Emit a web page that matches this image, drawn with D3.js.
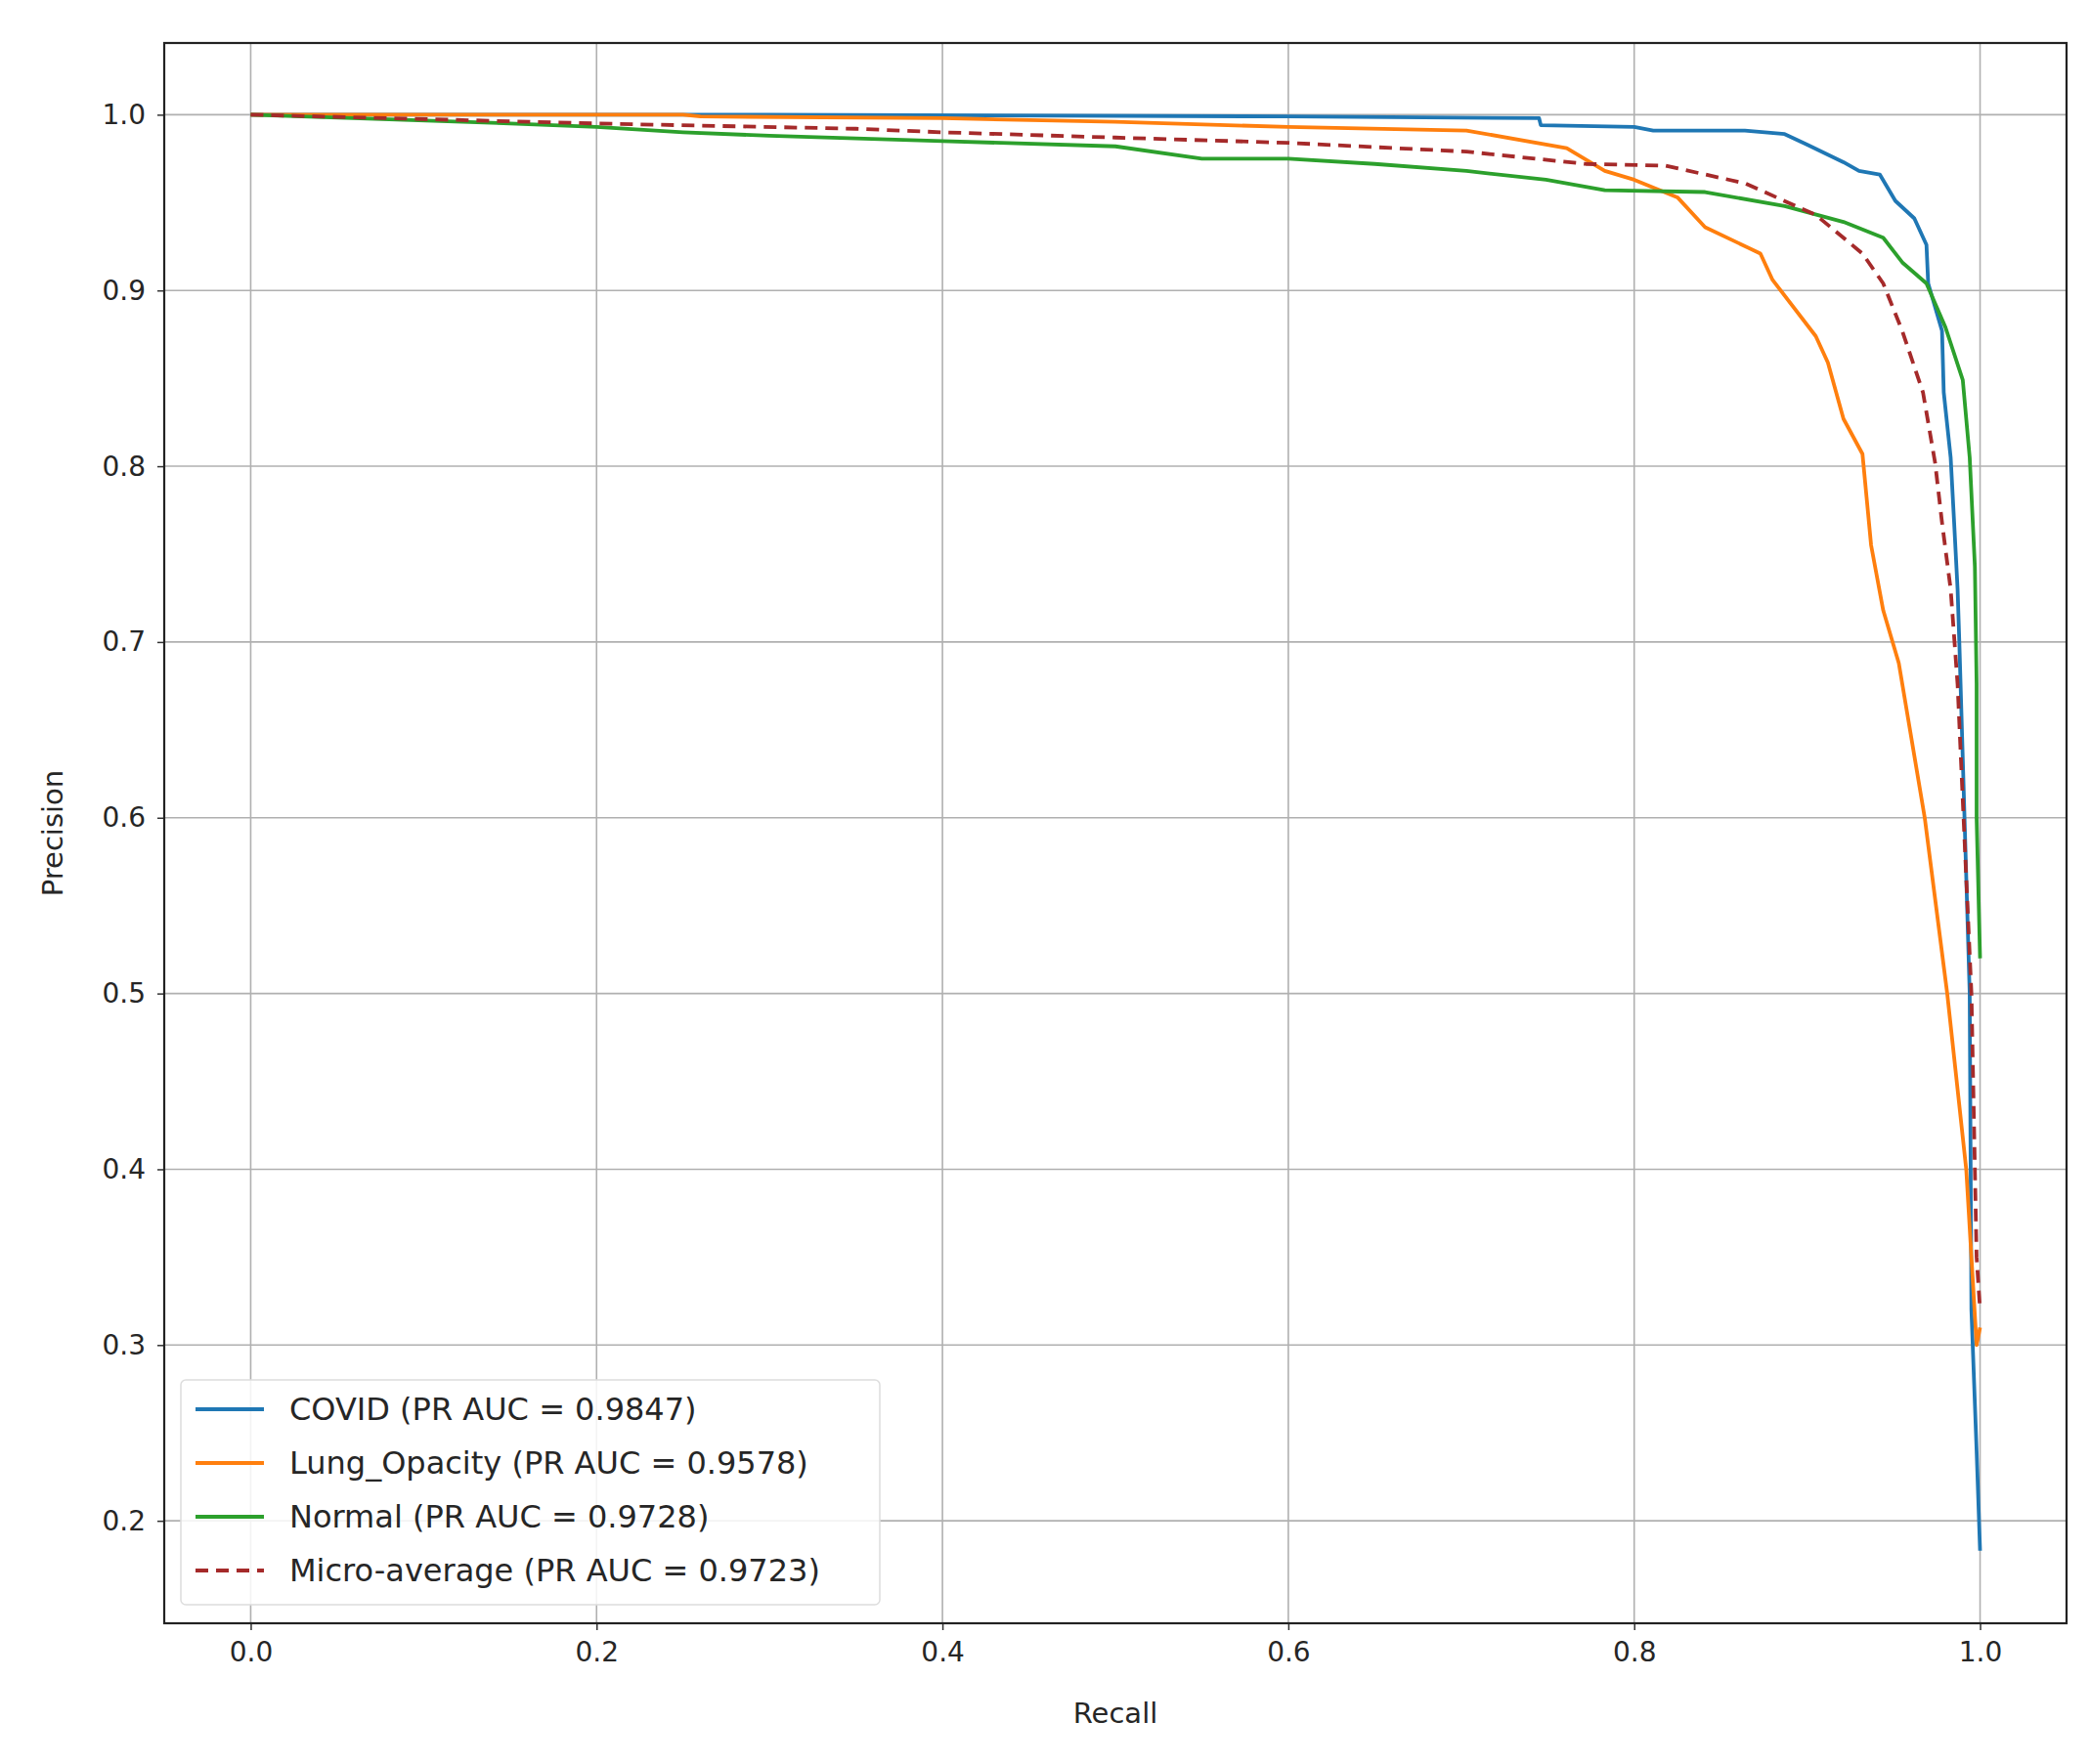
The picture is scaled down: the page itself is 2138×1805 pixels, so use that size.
<!DOCTYPE html>
<html><head><meta charset="utf-8">
<script src="https://cdn.jsdelivr.net/npm/d3@7"></script>
<style>body{margin:0;background:#fff}text{font-family:"DejaVu Sans",sans-serif;fill:#262626}</style>
</head><body>
<script>
const xTicks=[0.0,0.2,0.4,0.6,0.8,1.0];
const yTicks=[0.2,0.3,0.4,0.5,0.6,0.7,0.8,0.9,1.0];
const covidRecall=[0,0.3,0.6,0.745,0.746,0.8,0.811,0.864,0.887,0.9,0.921,0.93,0.942,0.951,0.962,0.969,0.970,0.978,0.979,0.983,0.985,0.987,0.988,0.994,0.995,0.998,1.0];
const covidPrec=[1,1,0.999,0.998,0.994,0.993,0.991,0.991,0.989,0.983,0.973,0.968,0.966,0.951,0.941,0.926,0.904,0.877,0.842,0.805,0.768,0.730,0.70,0.50,0.32,0.24,0.183];
const lungRecall=[0,0.25,0.26,0.4,0.5,0.6,0.703,0.761,0.783,0.8,0.825,0.841,0.873,0.880,0.905,0.912,0.921,0.932,0.937,0.944,0.953,0.968,0.981,0.992,0.998,1.0];
const lungPrec=[1,1,0.999,0.998,0.996,0.993,0.991,0.981,0.968,0.963,0.953,0.936,0.921,0.906,0.874,0.859,0.827,0.807,0.755,0.718,0.688,0.6,0.5,0.4,0.3,0.31];
const normalRecall=[0,0.15,0.2,0.25,0.3,0.4,0.5,0.55,0.6,0.65,0.703,0.749,0.783,0.841,0.887,0.921,0.944,0.955,0.969,0.98,0.99,0.994,0.997,0.998,0.998,1.0];
const normalPrec=[1,0.995,0.993,0.99,0.988,0.985,0.982,0.975,0.975,0.972,0.968,0.963,0.957,0.956,0.948,0.939,0.930,0.916,0.904,0.879,0.849,0.805,0.743,0.676,0.6,0.52];
const microRecall=[0,0.2,0.35,0.4,0.5,0.6,0.703,0.772,0.818,0.864,0.905,0.932,0.944,0.955,0.967,0.974,0.978,0.983,0.987,0.995,0.998,1.0];
const microPrec=[1,0.995,0.992,0.99,0.987,0.984,0.979,0.972,0.971,0.961,0.943,0.921,0.904,0.877,0.842,0.802,0.768,0.730,0.676,0.5,0.35,0.32];
const seriesNames=["COVID (PR AUC = 0.9847)","Lung_Opacity (PR AUC = 0.9578)","Normal (PR AUC = 0.9728)","Micro-average (PR AUC = 0.9723)"];
const seriesColors=["#1f77b4","#ff7f0e","#2ca02c","#a52a2a"];
const seriesDash=[null,null,null,"13,8"];
const series=[[covidRecall,covidPrec],[lungRecall,lungPrec],[normalRecall,normalPrec],[microRecall,microPrec]];

const W=2138,H=1805,L=168,R=2114,T=44,B=1661;
const svg=d3.select("body").append("svg").attr("width",W).attr("height",H);
const x=d3.scaleLinear().domain([-0.05,1.05]).range([L,R]);
const y=d3.scaleLinear().domain([0.1417,1.0408]).range([B,T]);
const g=svg.append("g");
g.selectAll(".gx").data(xTicks).join("line").attr("x1",d=>x(d)).attr("x2",d=>x(d)).attr("y1",T).attr("y2",B).attr("stroke","#b0b0b0").attr("stroke-width",1.6);
g.selectAll(".gy").data(yTicks).join("line").attr("y1",d=>y(d)).attr("y2",d=>y(d)).attr("x1",L).attr("x2",R).attr("stroke","#b0b0b0").attr("stroke-width",1.6);
const xa=svg.append("g").attr("transform",`translate(0,${B})`).call(d3.axisBottom(x).tickValues(xTicks).tickFormat(d3.format(".1f")).tickSize(7).tickPadding(12));
const ya=svg.append("g").attr("transform",`translate(${L},0)`).call(d3.axisLeft(y).tickValues(yTicks).tickFormat(d3.format(".1f")).tickSize(7).tickPadding(12));
[xa,ya].forEach(a=>{a.select(".domain").remove();a.selectAll("text").attr("font-size",28).style("font-family","DejaVu Sans").attr("fill","#262626");a.selectAll("line").attr("stroke","#333").attr("stroke-width",1.5);});
const line=d3.line().x(d=>x(d[0])).y(d=>y(d[1]));
series.forEach((s,i)=>{
  const pts=s[0].map((r,j)=>[r,s[1][j]]);
  svg.append("path").datum(pts).attr("d",line).attr("fill","none").attr("stroke",seriesColors[i]).attr("stroke-width",3.8).attr("stroke-linejoin","round").attr("stroke-dasharray",seriesDash[i]);
});
svg.append("rect").attr("x",L).attr("y",T).attr("width",R-L).attr("height",B-T).attr("fill","none").attr("stroke","#222").attr("stroke-width",2.2);
svg.append("text").attr("x",(L+R)/2).attr("y",1763).attr("text-anchor","middle").attr("font-size",29).text("Recall");
svg.append("text").attr("transform",`translate(64,${(T+B)/2}) rotate(-90)`).attr("text-anchor","middle").attr("font-size",29).text("Precision");
const lg=svg.append("g");
lg.append("rect").attr("x",185).attr("y",1412).attr("width",715).attr("height",230).attr("rx",5).attr("fill","#fff").attr("fill-opacity",0.85).attr("stroke","#ddd").attr("stroke-width",1.5);
seriesNames.forEach((n,i)=>{
  const yy=1442+i*55;
  lg.append("line").attr("x1",200).attr("x2",270).attr("y1",yy).attr("y2",yy).attr("stroke",seriesColors[i]).attr("stroke-width",3.8).attr("stroke-dasharray",seriesDash[i]);
  lg.append("text").attr("x",296).attr("y",yy+11).attr("font-size",32).text(n);
});
</script>
</body></html>
